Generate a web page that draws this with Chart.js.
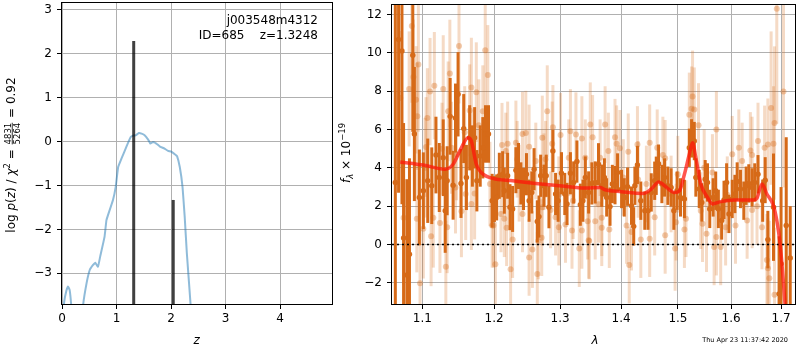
<!DOCTYPE html>
<html><head><meta charset="utf-8">
<script src="https://cdn.jsdelivr.net/npm/chart.js@4.4.0/dist/chart.umd.min.js"></script>
<style>
html,body{margin:0;padding:0;background:#fff;width:800px;height:350px;overflow:hidden}
#c1{position:absolute;left:0;top:0}
#c2{position:absolute;left:335px;top:0}
</style></head><body>
<canvas id="c1" width="340" height="350"></canvas>
<canvas id="c2" width="465" height="350"></canvas>
<script>
// ---------- left panel data ----------
const zTicks = [0, 1, 2, 3, 4];
const pzTicks = [-3, -2, -1, 0, 1, 2, 3];
const pzZ = [0.00,0.04,0.08,0.11,0.14,0.17,0.21,0.30,0.385,0.45,0.51,0.57,0.61,0.66,0.70,0.78,0.815,0.845,0.935,0.985,1.03,1.09,1.18,1.26,1.315,1.35,1.41,1.46,1.52,1.58,1.62,1.67,1.73,1.79,1.88,1.945,2.005,2.07,2.11,2.16,2.21,2.25,2.29,2.33,2.36,2.42];
const pzLog = [-4.3,-3.65,-3.4,-3.30,-3.38,-3.75,-4.6,-5.2,-3.75,-3.23,-2.92,-2.81,-2.76,-2.85,-2.62,-2.17,-1.79,-1.67,-1.33,-1.03,-0.58,-0.39,-0.12,0.105,0.14,0.14,0.195,0.18,0.14,0.045,-0.045,-0.01,-0.045,-0.107,-0.16,-0.21,-0.23,-0.29,-0.33,-0.58,-1.03,-1.71,-2.55,-3.23,-3.75,-5.0];
const peakZ = [1.315, 2.04];
const peakLogP = [2.29, -1.33];

// ---------- right panel data ----------
const waveTicks = [1.1, 1.2, 1.3, 1.4, 1.5, 1.6, 1.7];
const fluxTicks = [-2, 0, 2, 4, 6, 8, 10, 12];
const darkWave = [1.0645,1.0687,1.0731,1.0752,1.0795,1.0829,1.0873,1.0894,1.0960,1.1013,
1.1072,1.1126,1.1183,1.1228,1.1282,1.1309,1.1336,1.1377,1.1418,1.1451,
1.1487,1.1528,1.1566,1.1604,1.1650,1.1688,1.1720,1.1752,1.1800,1.1837,
1.1876,1.1919,1.1972,1.2005,1.2038,1.2077,1.2125,1.2150,1.2199,1.2234,
1.2273,1.2322,1.2361,1.2397,1.2436,1.2481,1.2521,1.2562,1.2597,1.2646,
1.2672,1.2698,1.2749,1.2784,1.2826,1.2888,1.2930,1.2970,1.3023,1.3075,
1.3111,1.3165,1.3217,1.3269,1.3324,1.3366,1.3405,1.3459,1.3512,1.3567,
1.3621,1.3675,1.3719,1.3757,1.3813,1.3852,1.3897,1.3940,1.4008,1.4054,
1.4110,1.4178,1.4216,1.4236,1.4280,1.4339,1.4408,1.4465,1.4522,1.4582,
1.4610,1.4651,1.4710,1.4758,1.4817,1.4876,1.4925,1.4984,1.5046,1.5118,
1.5208,1.5250,1.5300,1.5329,1.5392,1.5440,1.5504,1.5547,1.5590,1.5654,
1.5703,1.5754,1.5817,1.5862,1.5912,1.5958,1.6021,1.6073,1.6117,1.6182,
1.6248,1.6293,1.6346,1.6412,1.6465,1.6530,1.6624,1.6675,1.6729,1.6844,
1.6958,1.6999,1.7106,1.7189];
const darkFlux = [3.24,10.7,10.1,0.34,-1.59,-0.5,9.88,5.77,2.46,2.81,
3.33,3.07,4.67,3.5,4.53,1.77,3.33,6.69,3.10,6.60,
7.84,3.19,6.05,3.50,5.57,4.62,5.57,3.33,4.62,5.05,
5.77,5.77,2.29,2.38,2.46,3.59,3.67,2.81,3.59,1.95,
1.86,3.88,4.10,3.19,2.90,3.67,2.29,2.72,3.93,1.21,
1.46,3.59,3.07,3.59,1.95,4.88,2.64,2.29,3.72,2.64,
2.12,3.72,3.24,4.33,2.08,2.29,3.50,2.72,3.19,3.24,
4.19,3.07,3.50,2.46,1.98,3.16,3.10,3.76,2.90,2.46,
3.02,2.03,0.95,3.07,4.15,2.29,1.77,1.77,2.72,3.33,
3.59,4.22,3.16,3.50,3.07,2.98,1.77,2.81,2.46,2.38,
5.05,5.54,5.40,3.50,2.90,2.20,3.41,3.24,1.86,2.46,
2.81,1.86,1.26,2.33,3.24,1.60,2.38,2.64,3.29,2.90,
2.29,3.07,3.19,2.98,3.24,3.67,2.29,3.36,0.26,1.95,
-2.57,-1.0,1.0,-0.7];
const darkErr = [10,8,8,6,5,5,4,3.5,2.5,2,
2.2,2,2,1.8,2,2.2,1.8,2,1.8,1.8,
2.2,1.8,1.8,1.7,1.7,1.6,1.6,1.6,1.6,1.6,
1.5,1.5,1.4,1.2,1.2,1.2,1.2,1.2,1.2,1.2,
1.2,1.2,1.2,1.1,1.1,1.1,1.1,1.1,1.1,1.1,
1.1,1.1,1.1,1.1,1.1,1.1,1.1,1.1,1.1,1.1,
1.1,1.1,1.1,1.1,1.1,1.1,1.1,1.1,1.1,1.1,
1.1,1.1,1.0,1.0,1.0,1.0,1.0,1.0,1.0,1.0,
1.0,1.0,1.0,1.0,1.0,1.0,1.0,1.0,1.0,1.0,
1.0,1.0,1.0,1.0,1.0,1.0,1.0,1.0,1.0,1.0,
1.0,1.0,1.0,1.0,1.0,1.0,1.0,1.0,1.0,1.0,
1.0,1.0,1.0,1.0,1.0,1.0,1.0,1.0,1.0,1.0,
1.0,1.0,1.0,1.0,1.0,1.0,1.1,1.2,1.5,2.8,
3,4,4.6,2.7];

const lightWave = [1.0860,1.0947,1.0881,1.0825,1.0709,1.1500,1.1373,1.1282,1.1161,1.1103,
1.0916,1.0933,1.1067,1.1350,1.1674,1.1744,1.1872,1.1909,1.1837,1.1650,
1.1780,1.1580,1.1049,1.1265,1.1465,1.1940,1.1036,1.1396,1.1451,1.1594,
1.1720,1.0926,1.1013,1.1147,1.1237,1.1336,1.1534,1.1674,1.1972,1.1117,
1.1318,1.0969,1.0752,1.2800,1.2888,1.3008,1.3165,1.3253,1.3349,1.3486,
1.3524,1.2421,1.2471,1.2322,1.2199,1.2116,1.2521,1.2723,1.2877,1.2774,
1.2341,1.2623,1.2172,1.3138,1.3405,1.1990,1.2019,1.2101,1.2150,1.2184,
1.2243,1.2273,1.2421,1.2521,1.2571,1.2646,1.2661,1.2714,1.2723,1.2852,
1.2981,1.3086,1.3190,1.3307,1.3349,1.3470,1.3443,1.2930,1.3209,1.3731,
1.3924,1.3897,1.3980,1.3785,1.4122,1.4280,1.4494,1.4627,1.4728,1.4769,
1.5208,1.5250,1.3648,1.4436,1.3567,1.3675,1.3801,1.4093,1.4178,1.4139,
1.4339,1.4494,1.4582,1.4769,1.4948,1.4966,1.5118,1.5147,1.3459,1.3675,
1.4876,1.4997,1.5268,1.5300,1.5379,1.5716,1.5485,1.5641,1.6021,1.6150,
1.6215,1.6378,1.6412,1.6530,1.6663,1.6729,1.6844,1.6795,1.6911,1.7049,
1.6864,1.5421,1.5454,1.5529,1.5673,1.5716,1.5798,1.5893,1.6085,1.6313,
1.6412,1.6610,1.6729,1.6759,1.6864,1.6709,1.2371,1.2981,1.3621,1.4292,
1.5925,1.6510,1.2749,1.4037];
const lightFlux = [11.4,9.39,8.74,8.12,7.64,10.36,8.93,8.12,8.29,7.98,
7.55,6.69,6.60,6.95,8.19,7.95,10.14,8.85,6.95,7.0,
6.22,5.86,5.09,5.0,4.71,3.16,4.01,5.05,2.98,2.64,
2.67,1.35,0.83,1.40,1.12,0.91,1.74,2.12,1.0,0.43,
-1.16,-2.02,1.40,6.95,6.12,5.71,5.91,5.74,5.54,6.26,
5.60,5.77,5.82,5.31,5.26,5.19,5.10,5.57,5.26,4.45,
4.45,4.36,4.88,4.53,4.53,1.0,-1.02,1.60,1.35,0.88,
-1.29,0.26,1.60,-0.67,-0.26,-1.54,0.19,0.36,1.95,1.81,
0.91,1.05,0.74,-0.21,0.74,0.19,1.22,1.43,2.29,6.26,
5.26,5.60,5.02,4.88,4.84,5.22,5.31,5.05,4.67,4.50,
6.77,7.09,4.53,3.16,1.22,0.88,0.78,1.0,0.65,-1.07,
0.26,0.31,1.43,0.48,-0.21,1.17,0.78,1.35,0.22,1.40,
2.64,3.67,7.72,7.04,6.22,6.0,4.01,3.76,4.71,5.05,
4.36,4.91,4.67,5.40,5.05,5.22,5.26,7.12,12.3,7.98,
6.34,1.77,1.09,0.57,-0.12,0.39,-0.12,0.91,1.0,1.26,
1.81,0.91,-1.24,-1.76,-2.62,-0.81,3.2,2.6,2.1,3.4,
2.6,2.0,3.8,3.5];
const lightErr = [4,3.5,3,3,3.5,3,2.8,2.8,2.8,2.8,
2.8,2.8,2.6,2.6,2.6,2.6,3,2.6,2.4,2.4,
2.4,2.4,2.6,2.4,2.4,2.2,2.6,2.4,2.4,2.4,
2.4,2.8,2.6,2.6,2.6,2.4,2.4,2.4,2.2,2.6,
2.4,2.8,3.5,2.4,2.2,2.2,2.2,2.2,2.2,2.2,
2.2,2.2,2.2,2.2,2.2,2.2,2.2,2.2,2.2,2.0,
2.0,2.0,2.0,2.0,2.0,2.2,2.2,2.0,2.0,2.0,
2.2,2.0,2.0,2.0,2.0,2.2,2.0,2.0,2.0,2.0,
2.0,2.0,2.0,2.0,2.0,2.0,2.0,2.0,2.0,2.0,
2.0,2.0,2.0,2.0,2.0,2.0,2.0,2.0,2.0,2.0,
2.2,2.2,2.0,2.0,2.0,2.0,2.0,2.0,2.0,2.0,
2.0,2.0,2.0,2.0,2.2,2.0,2.0,2.0,2.0,2.0,
2.0,2.0,2.4,2.2,2.2,2.0,2.0,2.0,2.0,2.0,
2.0,2.0,2.0,2.0,2.2,2.4,3,4,6,5,
4,2.0,2.0,2.0,2.0,2.0,2.0,2.0,2.0,2.0,
2.0,2.2,2.6,3,3.5,2.4,2.0,2.0,2.0,2.0,
2.0,2.0,2.0,2.0];

const modelWave = [1.0709,1.1013,1.1305,1.1418,1.1533,1.1626,1.1674,1.1744,1.1814,1.1981,1.2273,1.2622,1.3033,1.3405,1.3649,1.3731,1.4008,1.4378,1.4522,1.4656,1.4758,1.4937,1.5028,1.5118,1.5208,1.5268,1.5329,1.5422,1.5547,1.5641,1.5798,1.6054,1.6445,1.6510,1.6610,1.6709,1.6844,1.6911,1.6979,1.7049,1.7106];
const modelFlux = [4.31,4.15,3.93,4.19,5.05,5.57,5.40,4.19,3.76,3.45,3.33,3.19,3.05,2.95,2.98,2.86,2.76,2.67,2.90,3.27,3.07,2.72,2.81,3.67,4.71,5.31,4.53,3.16,2.46,2.12,2.24,2.33,2.33,2.43,3.16,2.64,2.03,1.26,0.05,-2.0,-4.0];

const FONT = "DejaVu Sans";
Chart.defaults.font.family = FONT;
Chart.defaults.font.size = 12;
Chart.defaults.color = '#000';
const minus = v => v < 0 ? '\u2212' + Math.abs(v) : String(v);

function drawPieces(ctx, pieces, cx, cy, rot, base) {
  ctx.save();
  ctx.translate(cx, cy);
  if (rot) ctx.rotate(-Math.PI / 2);
  ctx.fillStyle = '#000';
  ctx.textBaseline = 'alphabetic';
  ctx.textAlign = 'left';
  const font = p => (p.italic ? 'italic ' : '') + (p.size || 12) + 'px "' + FONT + '"';
  let w = 0;
  pieces.forEach(p => {
    ctx.font = font(p);
    if (p.frac) p.w = Math.max(ctx.measureText(p.num).width, ctx.measureText(p.den).width) + 2;
    else p.w = ctx.measureText(p.t).width;
    w += p.w;
  });
  let x = -w / 2;
  pieces.forEach(p => {
    ctx.font = font(p);
    if (p.frac) {
      ctx.textAlign = 'center';
      ctx.fillText(p.num, x + p.w / 2, base - 3.6);
      ctx.fillText(p.den, x + p.w / 2, base + 5.2);
      ctx.fillRect(x + 1, base - 2.7, p.w - 2, 0.8);
      ctx.textAlign = 'left';
    } else {
      ctx.fillText(p.t, x, base + (p.dy || 0));
    }
    x += p.w;
  });
  ctx.restore();
}

const framePlugin = {
  id: 'frame',
  afterDraw(chart) {
    const { ctx, chartArea: a } = chart;
    ctx.save();
    ctx.strokeStyle = '#000';
    ctx.lineWidth = 1;
    const l = Math.round(a.left) - 0.5, t = Math.round(a.top) + 0.5;
    const r = Math.round(a.right) - 0.5, b = Math.round(a.bottom) + 0.5;
    ctx.strokeRect(l, t, r - l, b - t);
    ctx.restore();
  }
};

const errPlugin = {
  id: 'errbars',
  beforeDatasetDraw(chart, args) {
    const ds = chart.data.datasets[args.index];
    if (!ds.errs) return;
    const { ctx, chartArea: a } = chart;
    const xs = chart.scales.x, ys = chart.scales.y;
    ctx.save();
    ctx.beginPath();
    ctx.rect(a.left, a.top, a.right - a.left, a.bottom - a.top);
    ctx.clip();
    ctx.strokeStyle = ds.errColor;
    ctx.lineWidth = ds.errWidth;
    ds.data.forEach((p, i) => {
      const px = xs.getPixelForValue(p.x);
      ctx.beginPath();
      ctx.moveTo(px, ys.getPixelForValue(p.y - ds.errs[i]));
      ctx.lineTo(px, ys.getPixelForValue(p.y + ds.errs[i]));
      ctx.stroke();
    });
    ctx.restore();
  }
};

const gridOpts = { color: '#b0b0b0', lineWidth: 1, tickColor: '#000', tickLength: 5, drawTicks: true, tickWidth: 1 };
const fitX = s => { s.height = 46; s.paddingLeft = 0; s.paddingRight = 0; };
const fitY = w => s => { s.width = w; s.paddingTop = 0; s.paddingBottom = 0; };

// ---------- left chart ----------
const leftText = {
  id: 'leftText',
  afterDraw(chart) {
    const ctx = chart.ctx;
    ctx.save();
    ctx.fillStyle = '#000';
    ctx.font = '12px "' + FONT + '"';
    ctx.textAlign = 'right';
    ctx.textBaseline = 'alphabetic';
    ctx.fillText('j003548m4312', 318, 24);
    ctx.fillText('ID=685    z=1.3248', 318, 39);
    ctx.textAlign = 'center';
    ctx.font = 'italic 12px "' + FONT + '"';
    ctx.fillText('z', 196.7, 344);
    ctx.restore();
    drawPieces(ctx, [
      { t: 'log ' }, { t: 'p', italic: true }, { t: '(' }, { t: 'z', italic: true }, { t: ') / ' },
      { t: '\u03C7', italic: true }, { t: '2', size: 8.5, dy: -5 }, { t: ' = ' },
      { frac: true, num: '4831', den: '5264', size: 8.5 }, { t: ' = 0.92' }
    ], 10, 155, true, 4.5);
  }
};

new Chart(document.getElementById('c1'), {
  type: 'scatter',
  data: {
    datasets: [
      { data: [{ x: peakZ[0], y: -6 }, { x: peakZ[0], y: peakLogP[0] }], showLine: true, borderColor: 'rgba(0,0,0,0.75)', borderWidth: 3, pointRadius: 0, order: 0 },
      { data: [{ x: peakZ[1], y: -6 }, { x: peakZ[1], y: peakLogP[1] }], showLine: true, borderColor: 'rgba(0,0,0,0.75)', borderWidth: 3, pointRadius: 0, order: 0 },
      { data: pzZ.map((z, i) => ({ x: z, y: pzLog[i] })), showLine: true, borderColor: 'rgba(31,119,180,0.5)', borderWidth: 2, pointRadius: 0, tension: 0.1, order: 1 }
    ]
  },
  options: {
    responsive: false, animation: false, devicePixelRatio: 1,
    layout: { padding: { left: 0, top: 2, right: 7, bottom: 0 } },
    plugins: { legend: { display: false }, tooltip: { enabled: false } },
    scales: {
      x: {
        type: 'linear', min: 0, max: 4.97,
        afterBuildTicks: s => { s.ticks = zTicks.map(v => ({ value: v })); },
        afterFit: fitX,
        grid: gridOpts, border: { display: false },
        ticks: { padding: 3, autoSkip: false, maxRotation: 0, callback: v => minus(v) }
      },
      y: {
        type: 'linear', min: -3.70, max: 3.18,
        afterBuildTicks: s => { s.ticks = pzTicks.map(v => ({ value: v })); },
        afterFit: fitY(62),
        grid: gridOpts, border: { display: false },
        ticks: { padding: 5, autoSkip: false, callback: v => minus(v) }
      }
    }
  },
  plugins: [framePlugin, leftText]
});

// ---------- right chart ----------
const rightText = {
  id: 'rightText',
  afterDraw(chart) {
    const ctx = chart.ctx;
    ctx.save();
    ctx.fillStyle = '#000';
    ctx.textAlign = 'center';
    ctx.font = 'italic 12px "' + FONT + '"';
    ctx.fillText('\u03BB', 260, 344);
    ctx.font = '6.5px "' + FONT + '"';
    ctx.textAlign = 'right';
    ctx.fillText('Thu Apr 23 11:37:42 2020', 453, 342);
    ctx.restore();
    drawPieces(ctx, [
      { t: 'f', italic: true }, { t: '\u03BB', italic: true, size: 8.5, dy: 2.5 }, { t: ' \u00D7 10' }, { t: '\u221219', size: 8.5, dy: -5 }
    ], 10.5, 153, true, 4.5);
  }
};

const DARK = 'rgb(214,106,24)';
new Chart(document.getElementById('c2'), {
  type: 'scatter',
  data: {
    datasets: [
      { data: modelWave.map((w, i) => ({ x: w, y: modelFlux[i] })), showLine: true, borderColor: 'rgba(255,20,10,0.72)', borderWidth: 3.5, pointRadius: 0, cubicInterpolationMode: 'monotone', order: 0 },
      { data: [{ x: 1.0602, y: 0 }, { x: 1.731, y: 0 }], showLine: true, borderColor: '#000', borderWidth: 1.5, borderDash: [2, 3], pointRadius: 0, order: 1 },
      { data: darkWave.map((w, i) => ({ x: w, y: darkFlux[i] })), errs: darkErr, errColor: DARK, errWidth: 3, pointRadius: 2.7, pointBorderWidth: 0, backgroundColor: DARK, order: 2 },
      { data: lightWave.map((w, i) => ({ x: w, y: lightFlux[i] })), errs: lightErr, errColor: 'rgba(214,106,24,0.25)', errWidth: 3, pointRadius: 3, pointBorderWidth: 0, backgroundColor: 'rgba(214,106,24,0.35)', order: 3 }
    ]
  },
  options: {
    responsive: false, animation: false, devicePixelRatio: 1,
    layout: { padding: { left: 0, top: 2, right: 1, bottom: 0 } },
    plugins: { legend: { display: false }, tooltip: { enabled: false } },
    scales: {
      x: {
        type: 'logarithmic', min: 1.0602, max: 1.731,
        afterBuildTicks: s => { s.ticks = waveTicks.map(v => ({ value: v })); },
        afterFit: fitX,
        grid: gridOpts, border: { display: false },
        ticks: { padding: 3, autoSkip: false, maxRotation: 0, callback: v => Number(v).toFixed(1) }
      },
      y: {
        type: 'linear', min: -3.1, max: 12.55,
        afterBuildTicks: s => { s.ticks = fluxTicks.map(v => ({ value: v })); },
        afterFit: fitY(57),
        grid: gridOpts, border: { display: false },
        ticks: { padding: 5, autoSkip: false, callback: v => minus(v) }
      }
    }
  },
  plugins: [framePlugin, errPlugin, rightText]
});
</script>
</body></html>
